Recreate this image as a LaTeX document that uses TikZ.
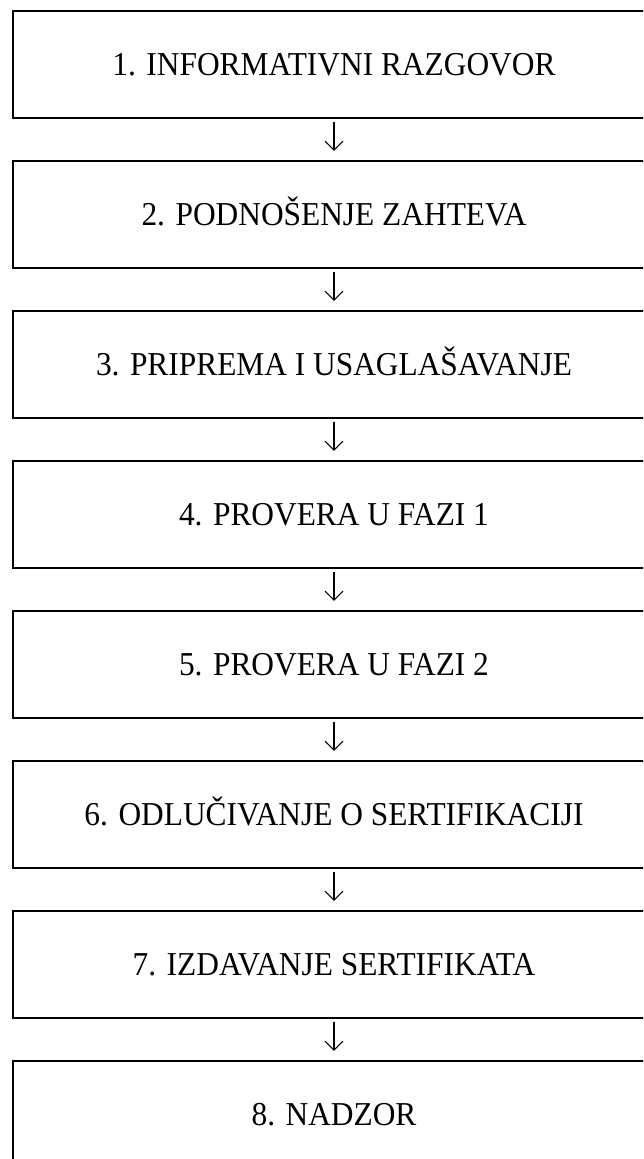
\documentclass[tikz,border=0pt]{standalone}
\usepackage{fontspec}
\setmainfont[FakeStretch=0.94]{Liberation Serif}
\usetikzlibrary{positioning,arrows.meta}
\tikzset{
  phase box/.style={
    draw,
    line width=2pt,
    outer sep=0pt,
    minimum width=642pt,
    minimum height=107.5pt,
    font=\fontsize{33.4}{40}\selectfont,
    text height=21.8pt,
    text depth=0pt,
  },
  phase arrow/.style={
    -{Straight Barb[length=9pt,width=18pt]},
    line width=1.1pt,
    shorten <=3.5pt,
    shorten >=10pt,
  }
}

\begin{document}
\begin{tikzpicture}[node distance=42.5pt]
        \useasboundingbox (0,0) rectangle (643pt,-1159pt);
        \clip (0,0) rectangle (643pt,-1159pt);

        \node [phase box] (f1) at (334pt,-64.7pt) {1. INFORMATIVNI RAZGOVOR};
        \node [phase box, below=of f1] (f2) {2. PODNOŠENJE ZAHTEVA};
        \node [phase box, below=of f2] (f3) {3. PRIPREMA I USAGLAŠAVANJE};
        \node [phase box, below=of f3] (f4) {4. PROVERA U FAZI 1};
        \node [phase box, below=of f4] (f5) {5. PROVERA U FAZI 2};
        \node [phase box, below=of f5] (f6) {6. ODLUČIVANJE O SERTIFIKACIJI};
        \node [phase box, below=of f6] (f7) {7. IZDAVANJE SERTIFIKATA};
        \node [phase box, below=of f7] (f8) {8. NADZOR};

        \draw [phase arrow] (f1) -- (f2);
        \draw [phase arrow] (f2) -- (f3);
        \draw [phase arrow] (f3) -- (f4);
        \draw [phase arrow] (f4) -- (f5);
        \draw [phase arrow] (f5) -- (f6);
        \draw [phase arrow] (f6) -- (f7);
        \draw [phase arrow] (f7) -- (f8);
      \end{tikzpicture}
\end{document}
